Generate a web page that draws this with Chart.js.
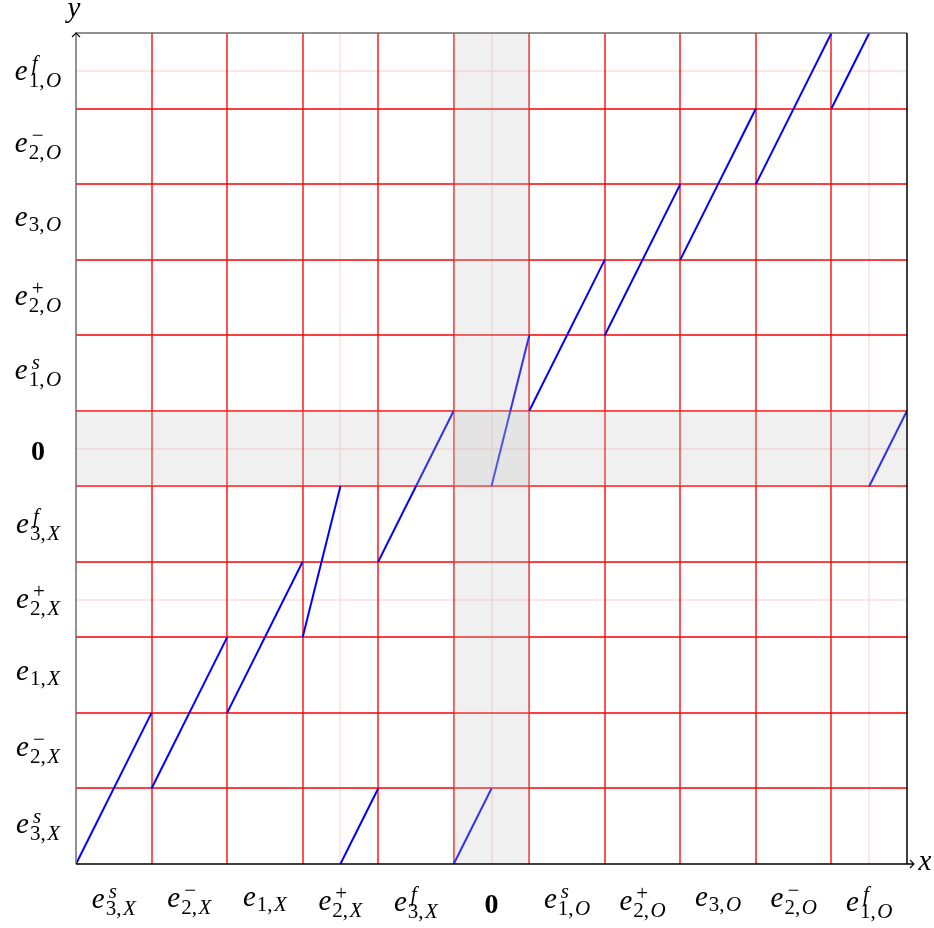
<!DOCTYPE html>
<html>
<head>
<meta charset="utf-8">
<script src="https://cdn.jsdelivr.net/npm/chart.js@4/dist/chart.umd.min.js"></script>
<style>
  html, body { margin: 0; padding: 0; background: #fff; }
  .wrap { width: 934px; height: 928px; position: relative; }
</style>
</head>
<body>
<div class="wrap"><canvas id="grafico"></canvas></div>
<script>
// nhãn trục: e^{sup}_{index,side}, ô thứ 6 là số 0 đậm
const tickBase = ['e', 'e', 'e', 'e', 'e', '0', 'e', 'e', 'e', 'e', 'e'];
const tickSup = ['s', '−', '', '+', 'f', '', 's', '+', '', '−', 'f'];
const tickIndex = ['3', '2', '1', '2', '3', '', '1', '2', '3', '2', '1'];
const tickSide = ['X', 'X', 'X', 'X', 'X', '', 'O', 'O', 'O', 'O', 'O'];

// các đoạn thẳng màu xanh (đơn vị ô)
const segX0 = [0, 1, 2, 3, 3.5, 4, 5, 5.5, 6, 7, 8, 9, 10, 10.5];
const segY0 = [0, 1, 2, 3, 0, 4, 0, 5, 6, 7, 8, 9, 10, 5];
const segX1 = [1, 2, 3, 3.5, 4, 5, 5.5, 6, 7, 8, 9, 10, 10.5, 11];
const segY1 = [2, 3, 4, 5, 1, 6, 1, 7, 8, 9, 10, 11, 11, 6];

// đường lưới mờ ở nửa ô
const halfLinesX = [3.5, 5.5, 10.5];
const halfLinesY = [3.5, 5.5, 10.5];
// dải tô xám
const bandX = [5, 6];
const bandY = [5, 6];

const SERIF = '"Liberation Serif", "DejaVu Serif", serif';
const BIG = 'italic 29px ' + SERIF;
const SMALL = '21px ' + SERIF;
const SMALL_IT = 'italic 21px ' + SERIF;

// vẽ một nhãn e^{sup}_{i,side}, tâm hộp tại (cx, cy)
const drawLabel = (ctx, i, cx, cy) => {
    ctx.fillStyle = '#000';
    ctx.textBaseline = 'alphabetic';
    if (tickBase[i] === '0') {
        ctx.font = 'bold 28px ' + SERIF;
        ctx.textAlign = 'center';
        const m = ctx.measureText('0');
        const base = cy + (m.actualBoundingBoxAscent - m.actualBoundingBoxDescent) / 2;
        ctx.fillText('0', cx, base);
        return;
    }
    ctx.textAlign = 'left';
    const sup = tickSup[i];
    const supFont = (sup === 's' || sup === 'f') ? SMALL_IT : SMALL;
    const raise = 10;
    const drop = sup ? 7 : 5;

    ctx.font = BIG;
    const me = ctx.measureText('e');
    const w0 = me.width + 1;
    let asc = me.actualBoundingBoxAscent;
    let desc = me.actualBoundingBoxDescent;

    let ws = 0;
    if (sup) {
        ctx.font = supFont;
        const ms = ctx.measureText(sup);
        ws = ms.width;
        asc = Math.max(asc, raise + ms.actualBoundingBoxAscent);
    }
    ctx.font = SMALL;
    const mn = ctx.measureText(tickIndex[i] + ',');
    const wn = mn.width + 1.5;
    desc = Math.max(desc, drop + mn.actualBoundingBoxDescent);
    ctx.font = SMALL_IT;
    const wl = ctx.measureText(tickSide[i]).width;

    const total = w0 + Math.max(ws + 3, wn + wl);
    const x0 = cx - total / 2;
    const eBase = cy + (asc - desc) / 2;

    ctx.font = BIG;
    ctx.fillText('e', x0, eBase);
    if (sup) {
        ctx.font = supFont;
        ctx.fillText(sup, x0 + w0 + 3, eBase - raise);
    }
    ctx.font = SMALL;
    ctx.fillText(tickIndex[i] + ',', x0 + w0, eBase + drop);
    ctx.font = SMALL_IT;
    ctx.fillText(tickSide[i], x0 + w0 + wn, eBase + drop);
};

const snap = (p) => Math.round(p);

const gridPlugin = {
    id: 'gridRed',
    beforeDatasetsDraw(chart) {
        const { ctx, chartArea: a, scales: { x, y } } = chart;
        ctx.save();
        ctx.lineWidth = 1.35;
        // nửa ô, màu hồng nhạt
        ctx.strokeStyle = 'rgba(255,0,0,0.14)';
        ctx.beginPath();
        halfLinesX.forEach(v => {
            const px = snap(x.getPixelForValue(v));
            ctx.moveTo(px, a.top);
            ctx.lineTo(px, a.bottom);
        });
        halfLinesY.forEach(v => {
            const py = snap(y.getPixelForValue(v));
            ctx.moveTo(a.left, py);
            ctx.lineTo(a.right, py);
        });
        ctx.stroke();
        // đường nguyên, màu đỏ
        ctx.strokeStyle = '#ff0000';
        ctx.beginPath();
        for (let v = 1; v < 11; v++) {
            const px = snap(x.getPixelForValue(v));
            ctx.moveTo(px, a.top);
            ctx.lineTo(px, a.bottom);
            const py = snap(y.getPixelForValue(v));
            ctx.moveTo(a.left, py);
            ctx.lineTo(a.right, py);
        }
        ctx.stroke();
        ctx.restore();
    },
    afterDatasetsDraw(chart) {
        const { ctx, chartArea: a, scales: { x, y } } = chart;
        ctx.save();
        // dải xám
        ctx.fillStyle = 'rgba(195,195,195,0.25)';
        const bx0 = x.getPixelForValue(bandX[0]);
        const bx1 = x.getPixelForValue(bandX[1]);
        ctx.fillRect(bx0, a.top, bx1 - bx0, a.bottom - a.top);
        const by0 = y.getPixelForValue(bandY[1]);
        const by1 = y.getPixelForValue(bandY[0]);
        ctx.fillRect(a.left, by0, a.right - a.left, by1 - by0);

        // khung và trục
        const L = snap(a.left), R = snap(a.right), T = snap(a.top), B = snap(a.bottom);
        ctx.lineWidth = 1.5;
        ctx.strokeStyle = '#6e6e6e';
        ctx.beginPath();
        ctx.moveTo(L, B);
        ctx.lineTo(L, T);
        ctx.lineTo(R, T);
        ctx.stroke();
        ctx.strokeStyle = '#000';
        ctx.beginPath();
        ctx.moveTo(R, T);
        ctx.lineTo(R, B);
        ctx.moveTo(L, B);
        ctx.lineTo(R + 7, B);
        ctx.stroke();
        // mũi tên
        ctx.lineWidth = 1.1;
        ctx.beginPath();
        ctx.moveTo(R + 3, B - 4);
        ctx.lineTo(R + 7, B);
        ctx.lineTo(R + 3, B + 4);
        ctx.stroke();
        ctx.beginPath();
        ctx.moveTo(L - 4, T + 4);
        ctx.lineTo(L, T);
        ctx.lineTo(L + 4, T + 4);
        ctx.stroke();

        // tên trục
        ctx.fillStyle = '#000';
        ctx.font = BIG;
        ctx.textAlign = 'center';
        ctx.fillText('y', a.left - 2, 17);
        ctx.fillText('x', a.right + 18, a.bottom + 6);

        // nhãn trục x
        for (let i = 0; i < tickBase.length; i++) {
            drawLabel(ctx, i, x.getPixelForValue(i + 0.5), 903.5);
        }
        // nhãn trục y
        for (let i = 0; i < tickBase.length; i++) {
            drawLabel(ctx, i, 38, y.getPixelForValue(i + 0.5) + 2);
        }
        ctx.restore();
    }
};

const datasets = segX0.map((x0, i) => ({
    data: [{ x: x0, y: segY0[i] }, { x: segX1[i], y: segY1[i] }],
    showLine: true,
    borderColor: '#0000ff',
    borderWidth: 2,
    pointRadius: 0,
    fill: false,
    tension: 0
}));

const hiddenScale = {
    type: 'linear',
    min: 0,
    max: 11,
    border: { display: false },
    grid: { display: false, drawTicks: false },
    ticks: { display: false }
};

new Chart(document.getElementById('grafico'), {
    type: 'scatter',
    data: { datasets },
    options: {
        responsive: true,
        maintainAspectRatio: false,
        animation: false,
        layout: { padding: { left: 76, top: 33, right: 27, bottom: 64 } },
        plugins: { legend: { display: false }, tooltip: { enabled: false } },
        scales: { x: hiddenScale, y: { ...hiddenScale } }
    },
    plugins: [gridPlugin]
});
</script>
</body>
</html>
